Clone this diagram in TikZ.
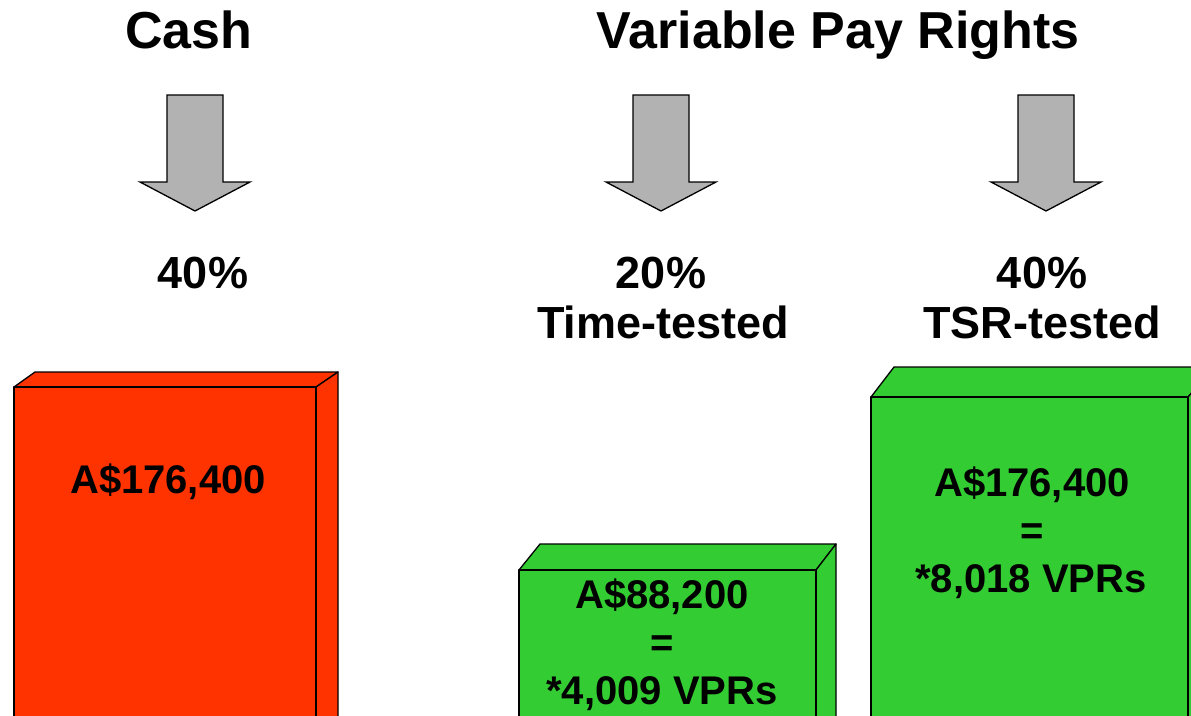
\documentclass[tikz,border=0pt]{standalone}
\usepackage{fontspec}
\setmainfont{Liberation Sans}
\definecolor{cashred}{HTML}{FF3300}
\definecolor{vprgreen}{HTML}{33CC33}
\definecolor{arrowgray}{HTML}{B2B2B2}
\tikzset{
  heading/.style={font=\bfseries\fontsize{52}{60}\selectfont, anchor=base, inner sep=0pt},
  share/.style={font=\bfseries\fontsize{45}{50}\selectfont, anchor=base, inner sep=0pt},
  amount/.style={font=\bfseries\fontsize{40}{48}\selectfont, anchor=base, inner sep=0pt},
  blockarrow/.style={fill=arrowgray, draw=black, line width=1.3pt, line join=miter},
  boxface/.style={draw=black, line width=1.3pt, line join=round},
}
\begin{document}
\begin{tikzpicture}[x=1pt, y=-1pt]
\useasboundingbox (0,0) rectangle (1191,715);
\clip (0,0) rectangle (1191,715);

% headings
\node[heading] (cash) at (189,48) {Cash};
\node[heading] (vpr) at (838,48) {Variable Pay Rights};

% downward block arrows
\foreach \cx/\nm in {195/a1, 661/a2, 1046/a3}{
  \draw[blockarrow] (\cx-28,95) -- (\cx+28,95) -- (\cx+28,182) -- (\cx+55,182)
     -- (\cx,211) -- (\cx-55,182) -- (\cx-28,182) -- cycle;
}

% shares
\node[share] (pc1) at (203,288) {40\%};
\node[share] (pc2) at (661,288) {20\%};
\node[share] (lb2) at (663,338) {Time-tested};
\node[share] (pc3) at (1042,288) {40\%};
\node[share] (lb3) at (1042,338) {TSR-tested};

% cash box
\filldraw[boxface, fill=cashred] (14,387) -- (35,372) -- (338,372) -- (316,387) -- cycle;
\filldraw[boxface, fill=cashred] (316,387) -- (338,372) -- (338,730) -- (316,730) -- cycle;
\filldraw[boxface, fill=cashred] (14,387) rectangle (316,730);
\node[amount] (cashamt) at (168,493) {A\$176,400};

% time-tested box
\filldraw[boxface, fill=vprgreen] (519,570) -- (540,544) -- (836,544) -- (816,570) -- cycle;
\filldraw[boxface, fill=vprgreen] (816,570) -- (836,544) -- (836,730) -- (816,730) -- cycle;
\filldraw[boxface, fill=vprgreen] (519,570) rectangle (816,730);
\node[amount] (ttamt) at (662,608) {A\$88,200};
\node[amount] (tteq) at (662,656) {=};
\node[amount] (ttvpr) at (662,704) {*4,009 VPRs};

% TSR-tested box
\filldraw[boxface, fill=vprgreen] (871,397) -- (894,367) -- (1215,367) -- (1188,397) -- cycle;
\filldraw[boxface, fill=vprgreen] (1188,397) -- (1215,367) -- (1215,730) -- (1188,730) -- cycle;
\filldraw[boxface, fill=vprgreen] (871,397) rectangle (1188,730);
\node[amount] (tsramt) at (1032,496) {A\$176,400};
\node[amount] (tsreq) at (1032,544) {=};
\node[amount] (tsrvpr) at (1031,592) {*8,018 VPRs};
\end{tikzpicture}
\end{document}
